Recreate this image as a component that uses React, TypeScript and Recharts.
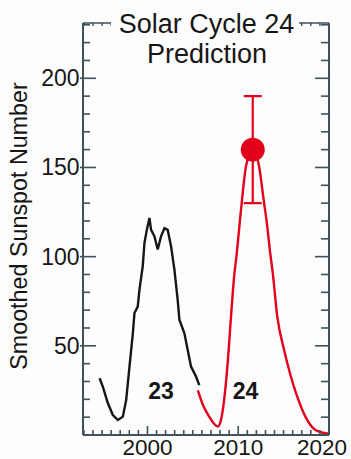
import React from 'react';
import { ComposedChart, Line, Scatter, ErrorBar, XAxis, YAxis, ReferenceDot } from 'recharts';

// Cycle 23 observed smoothed sunspot number
const cycle23Years = [1994.73, 1995.09, 1995.64, 1996.19, 1996.74, 1997.29, 1997.66, 1998.02, 1998.39, 1998.57, 1998.93, 1999.12, 1999.48, 1999.67, 1999.93, 2000.22, 2000.4, 2000.77, 2001.13, 2001.5, 2001.87, 2002.23, 2002.6, 2002.97, 2003.33, 2003.52, 2004.07, 2004.43, 2004.8, 2005.35, 2005.71];
const cycle23Values = [31.8, 27, 17.8, 11.2, 8.4, 10.3, 19.7, 38.4, 57, 68.4, 72, 81.5, 94.6, 107.7, 115, 121.7, 115, 111.4, 104, 111.4, 116, 115, 105.8, 92.7, 75.8, 64.6, 57, 47.8, 38.4, 32.8, 28];

// Cycle 24 predicted curve
const cycle24Years = [2005.55, 2006.1, 2006.8, 2007.3, 2007.75, 2008.1, 2008.45, 2008.8, 2009.2, 2009.55, 2009.8, 2010.3, 2010.85, 2011.2, 2011.6, 2012.0, 2012.3, 2012.8, 2013.2, 2013.5, 2013.8, 2014.3, 2015.05, 2015.8, 2016.5, 2017.4, 2018.5, 2019.6, 2020];
const cycle24Values = [25, 17, 10.3, 6.5, 4.7, 8.4, 19.7, 38, 66, 89, 100, 126, 150.5, 157, 160, 157, 150.5, 132, 117, 103, 91, 66.5, 47.8, 32.8, 21.5, 10.3, 2.8, 1, 0.8];

// Predicted maximum with range
const predictionYears = [2011.6];
const predictionValues = [160];
const predictionLow = [130];
const predictionHigh = [190];

// Cycle labels
const cycleLabelTexts = ['23', '24'];
const cycleLabelYears = [2001.5, 2010.8];
const cycleLabelValues = [24.5, 24.5];

// Axes
const yTicks = [0, 10, 20, 30, 40, 50, 60, 70, 80, 90, 100, 110, 120, 130, 140, 150, 160, 170, 180, 190, 200, 210, 220, 230];
const yLabelTicks = [50, 100, 150, 200];
const xTicks = [1993, 1994, 1995, 1996, 1997, 1998, 1999, 2000, 2001, 2002, 2003, 2004, 2005, 2006, 2007, 2008, 2009, 2010, 2011, 2012, 2013, 2014, 2015, 2016, 2017, 2018, 2019, 2020];
const xLabelTicks = [2000, 2010, 2020];
const xDomain = [1992.9, 2020];
const yDomain = [0, 231];

const titleLines = ['Solar Cycle 24', 'Prediction'];
const yAxisTitle = 'Smoothed Sunspot Number';

const cycle23 = cycle23Years.map((year, i) => ({ year, v: cycle23Values[i] }));
const cycle24 = cycle24Years.map((year, i) => ({ year, v: cycle24Values[i] }));
const prediction = predictionYears.map((year, i) => ({
  year,
  v: predictionValues[i],
  err: [predictionValues[i] - predictionLow[i], predictionHigh[i] - predictionValues[i]],
}));

const FONT = '"Liberation Sans", Arial, Helvetica, sans-serif';
const AXIS = '#3f5259';
const RED = '#e3001b';
const INK = '#161616';

const LeftTick = (props: any) => {
  const { x, y, payload } = props;
  const v = payload.value;
  const major = yLabelTicks.includes(v);
  return (
    <g>
      <line x1={major ? x - 3 : x} x2={x + (major ? 13 : 7)} y1={y} y2={y} stroke={AXIS} strokeWidth={1.6} />
      {major && (
        <text x={x - 3.5} y={y} textAnchor="end" dominantBaseline="central" fontSize={23} fontFamily={FONT} fill={INK}>
          {v}
        </text>
      )}
    </g>
  );
};

const RightTick = (props: any) => {
  const { x, y, payload } = props;
  const major = yLabelTicks.includes(payload.value);
  return <line x1={x - (major ? 14 : 8)} x2={x} y1={y} y2={y} stroke={AXIS} strokeWidth={1.6} />;
};

const BottomTick = (props: any) => {
  const { x, y, payload } = props;
  const v = payload.value;
  const major = v % 10 === 0;
  const isLast = v === xLabelTicks[xLabelTicks.length - 1];
  return (
    <g>
      <line x1={x} x2={x} y1={y} y2={y - (major ? 9 : 5)} stroke={AXIS} strokeWidth={1.6} />
      {xLabelTicks.includes(v) && (
        <text
          x={isLast ? x + 18 : x}
          y={y + 19.5}
          textAnchor={isLast ? 'end' : 'middle'}
          fontSize={22.5}
          fontFamily={FONT}
          fill={INK}
        >
          {v}
        </text>
      )}
    </g>
  );
};

const TopTick = (props: any) => {
  const { x, y } = props;
  return <line x1={x} x2={x} y1={y} y2={y + 3} stroke={AXIS} strokeWidth={1.4} />;
};

const Dot = (props: any) => <circle cx={props.cx} cy={props.cy} r={12} fill={RED} />;

export default function App() {
  return (
    <div style={{ position: 'absolute', left: 0, top: 0, width: 351, height: 459, background: '#fdfdfd', fontFamily: FONT }}>
      <ComposedChart width={351} height={459} margin={{ top: 22, right: 20, bottom: 0, left: 0 }}>
        <XAxis
          xAxisId="bottom"
          dataKey="year"
          type="number"
          domain={xDomain}
          allowDataOverflow
          ticks={xTicks}
          interval={0}
          tick={<BottomTick />}
          tickLine={false}
          tickSize={0}
          tickMargin={0}
          height={24}
          axisLine={{ stroke: AXIS, strokeWidth: 2 }}
        />
        <XAxis
          xAxisId="top"
          orientation="top"
          dataKey="year"
          type="number"
          domain={xDomain}
          allowDataOverflow
          ticks={xTicks}
          interval={0}
          tick={<TopTick />}
          tickLine={false}
          tickSize={0}
          tickMargin={0}
          height={1}
          axisLine={{ stroke: AXIS, strokeWidth: 1.4 }}
        />
        <YAxis
          yAxisId="left"
          dataKey="v"
          type="number"
          domain={yDomain}
          allowDataOverflow
          ticks={yTicks}
          interval={0}
          tick={<LeftTick />}
          tickLine={false}
          tickSize={0}
          tickMargin={0}
          width={83}
          axisLine={{ stroke: AXIS, strokeWidth: 2 }}
        />
        <YAxis
          yAxisId="right"
          orientation="right"
          type="number"
          domain={yDomain}
          allowDataOverflow
          ticks={yTicks}
          interval={0}
          tick={<RightTick />}
          tickLine={false}
          tickSize={0}
          tickMargin={0}
          width={2}
          axisLine={{ stroke: AXIS, strokeWidth: 2 }}
        />
        <Line
          xAxisId="bottom"
          yAxisId="left"
          data={cycle23}
          dataKey="v"
          type="linear"
          stroke={INK}
          strokeWidth={2.4}
          dot={false}
          isAnimationActive={false}
        />
        <Line
          xAxisId="bottom"
          yAxisId="left"
          data={cycle24}
          dataKey="v"
          type="monotone"
          stroke={RED}
          strokeWidth={2.4}
          dot={false}
          isAnimationActive={false}
        />
        <Scatter
          xAxisId="bottom"
          yAxisId="left"
          data={prediction}
          dataKey="v"
          shape={<Dot />}
          isAnimationActive={false}
        >
          <ErrorBar dataKey="err" direction="y" width={9} stroke={RED} strokeWidth={2.2} isAnimationActive={false} />
        </Scatter>
        {cycleLabelTexts.map((t, i) => (
          <ReferenceDot
            key={t}
            xAxisId="bottom"
            yAxisId="left"
            x={cycleLabelYears[i]}
            y={cycleLabelValues[i]}
            r={0}
            fill="none"
            stroke="none"
            label={{ value: t, position: 'center', fontSize: 23, fontWeight: 700, fill: INK, fontFamily: FONT }}
          />
        ))}
      </ComposedChart>
      <svg width={351} height={459} style={{ position: 'absolute', left: 0, top: 0, pointerEvents: 'none' }}>
        <rect x={111} y={10} width={188} height={26} fill="#fdfdfd" />
        <text x={206.5} y={33} textAnchor="middle" fontSize={27} fontFamily={FONT} fill={INK}>
          {titleLines[0]}
        </text>
        <text x={207} y={63} textAnchor="middle" fontSize={27} fontFamily={FONT} fill={INK}>
          {titleLines[1]}
        </text>
        <text transform="translate(27,226) rotate(-90)" textAnchor="middle" fontSize={23.3} fontFamily={FONT} fill={INK}>
          {yAxisTitle}
        </text>
      </svg>
    </div>
  );
}
